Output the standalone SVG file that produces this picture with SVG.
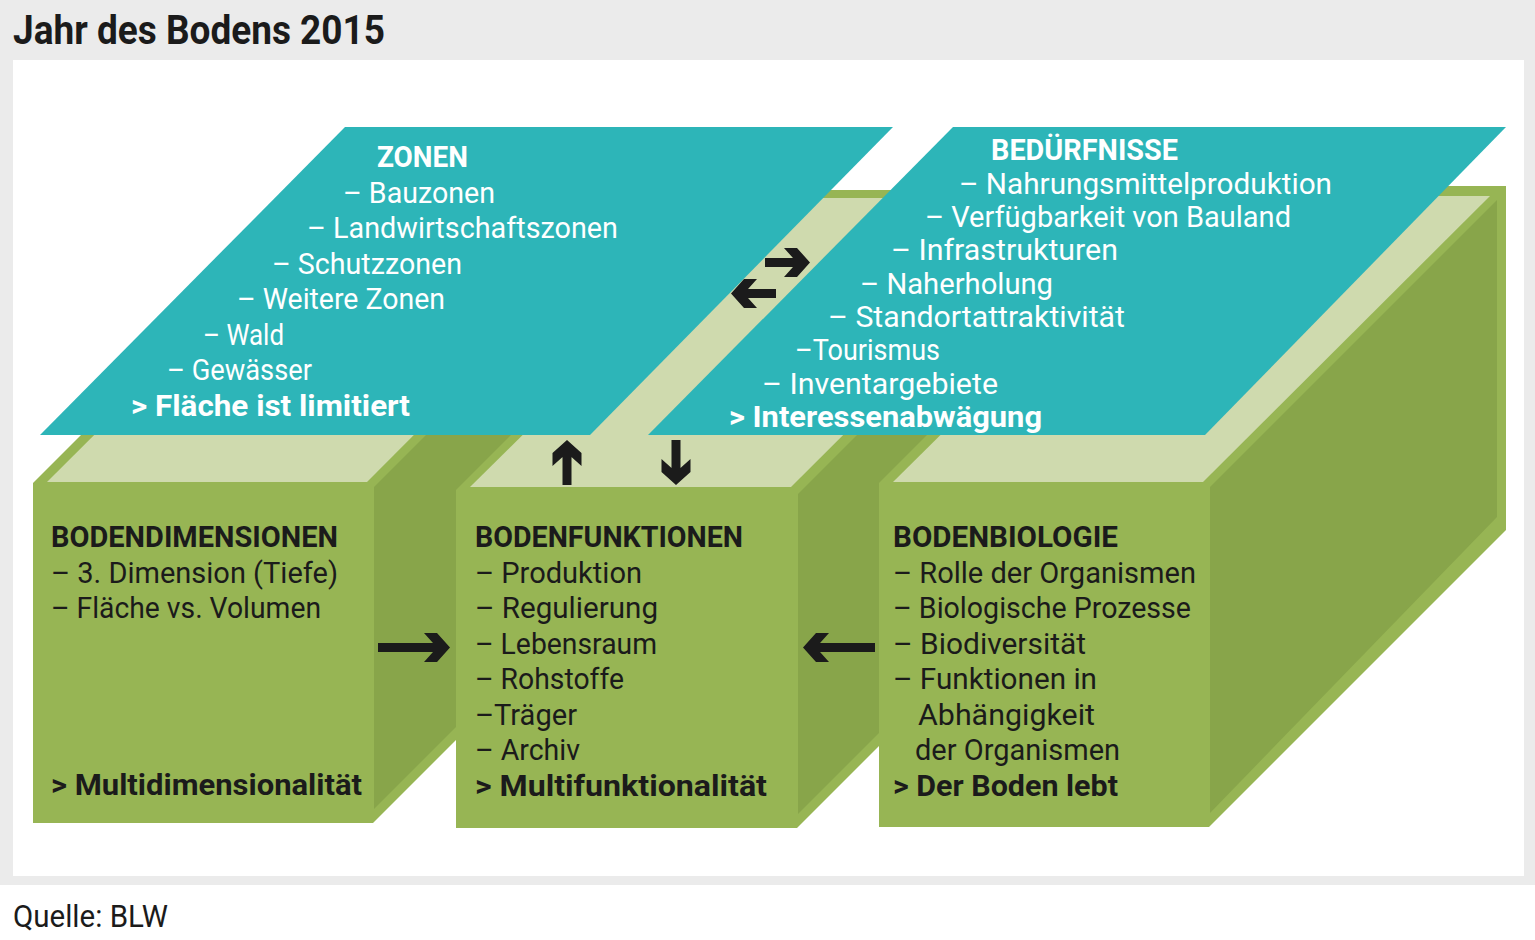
<svg xmlns="http://www.w3.org/2000/svg" width="1535" height="940" viewBox="0 0 1535 940">
<style>
.t{font-family:Roboto,"Liberation Sans",sans-serif;font-size:29px}
.w{fill:#ffffff}
.k{fill:#1b1b1b}
.b{font-weight:700}
.front{fill:#97b554}
.top{fill:#cfdaae}
.side{fill:#88a54a}
.teal{fill:#2db5b8}
.arrow{fill:#1b1b1b}
</style>
<defs>
<path id="arrL" d="M-72,-4.5 H-10 V4.5 H-72 Z M-26,-14.5 H-13 L0,0 L-13,14.5 H-26 L-13,0 Z"/>
<path id="arrS" d="M-45,-4.5 H-10 V4.5 H-45 Z M-26,-14.5 H-13 L0,0 L-13,14.5 H-26 L-13,0 Z"/>
</defs>
<rect x="0" y="0" width="1535" height="885" fill="#ebebeb"/>
<rect x="0" y="885" width="1535" height="55" fill="#ffffff"/>
<rect x="13" y="60" width="1511" height="816" fill="#ffffff"/>
<text class="t k b" x="13" y="44" style="font-size:40px" textLength="372" lengthAdjust="spacingAndGlyphs">Jahr des Bodens 2015</text>

<g id="box-bodendimensionen">
<polygon class="front" points="33,823 33,483 333,183 673,183 673,523 373,823"/>
<polygon class="top" points="47,482 367,482 657,191 339,191"/>
<polygon class="side" points="374,487 664,197 664,519 374,809"/>
</g>
<g id="box-bodenfunktionen">
<polygon class="front" points="456,828 456,490 756,190 1097,190 1097,528 797,828"/>
<polygon class="top" points="470,487 791,487 1081,198 762,198"/>
<polygon class="side" points="798,494 1088,204 1088,524 798,814"/>
</g>
<g id="box-bodenbiologie">
<polygon class="front" points="879,827 879,483 1176,186 1506,186 1506,530 1209,827"/>
<polygon class="top" points="893,482 1203,482 1490,196 1182,196"/>
<polygon class="side" points="1210,487 1497,200 1497,517 1210,813"/>
</g>
<g id="plane-zonen">
<polygon class="teal" points="40,435 590,435 893,127 345,127"/>
</g>
<g id="plane-beduerfnisse">
<polygon class="teal" points="648,435 1205,435 1506,127 953,127"/>
</g>

<g id="connectors" class="arrow">
<use href="#arrL" transform="translate(450,647.5)"/>
<use href="#arrL" transform="translate(803,647.5) rotate(180)"/>
<use href="#arrS" transform="translate(810,262.5)"/>
<use href="#arrS" transform="translate(731,293.5) rotate(180)"/>
<use href="#arrS" transform="translate(567,440) rotate(-90)"/>
<use href="#arrS" transform="translate(676,485) rotate(90)"/>
</g>

<g id="text-zonen">
<text class="t w b" x="377" y="167" textLength="91" lengthAdjust="spacingAndGlyphs">ZONEN</text>
<text class="t w" x="343" y="202.5" textLength="152" lengthAdjust="spacingAndGlyphs">– Bauzonen</text>
<text class="t w" x="307" y="238" textLength="311" lengthAdjust="spacingAndGlyphs">– Landwirtschaftszonen</text>
<text class="t w" x="272" y="273.5" textLength="190" lengthAdjust="spacingAndGlyphs">– Schutzzonen</text>
<text class="t w" x="237" y="309" textLength="208" lengthAdjust="spacingAndGlyphs">– Weitere Zonen</text>
<text class="t w" x="203" y="344.5" textLength="81" lengthAdjust="spacingAndGlyphs">– Wald</text>
<text class="t w" x="167" y="380" textLength="145" lengthAdjust="spacingAndGlyphs">– Gewässer</text>
<text class="t w b" x="131" y="415.5" textLength="279" lengthAdjust="spacingAndGlyphs">&gt; Fläche ist limitiert</text>
</g>
<g id="text-beduerfnisse">
<text class="t w b" x="991" y="160" textLength="187" lengthAdjust="spacingAndGlyphs">BEDÜRFNISSE</text>
<text class="t w" x="959" y="194" textLength="373" lengthAdjust="spacingAndGlyphs">– Nahrungsmittelproduktion</text>
<text class="t w" x="925" y="227" textLength="366" lengthAdjust="spacingAndGlyphs">– Verfügbarkeit von Bauland</text>
<text class="t w" x="891" y="260" textLength="227" lengthAdjust="spacingAndGlyphs">– Infrastrukturen</text>
<text class="t w" x="860" y="294" textLength="193" lengthAdjust="spacingAndGlyphs">– Naherholung</text>
<text class="t w" x="828" y="327" textLength="297" lengthAdjust="spacingAndGlyphs">– Standortattraktivität</text>
<text class="t w" x="795" y="360" textLength="145" lengthAdjust="spacingAndGlyphs">–Tourismus</text>
<text class="t w" x="762" y="394" textLength="236" lengthAdjust="spacingAndGlyphs">– Inventargebiete</text>
<text class="t w b" x="729" y="427" textLength="313" lengthAdjust="spacingAndGlyphs">&gt; Interessenabwägung</text>
</g>
<g id="text-bodendimensionen">
<text class="t k b" x="51" y="547" textLength="287" lengthAdjust="spacingAndGlyphs">BODENDIMENSIONEN</text>
<text class="t k" x="51" y="583" textLength="287" lengthAdjust="spacingAndGlyphs">– 3. Dimension (Tiefe)</text>
<text class="t k" x="51" y="618" textLength="270" lengthAdjust="spacingAndGlyphs">– Fläche vs. Volumen</text>
<text class="t k b" x="51" y="795" textLength="311" lengthAdjust="spacingAndGlyphs">&gt; Multidimensionalität</text>
</g>
<g id="text-bodenfunktionen">
<text class="t k b" x="475" y="547" textLength="268" lengthAdjust="spacingAndGlyphs">BODENFUNKTIONEN</text>
<text class="t k" x="475" y="582.5" textLength="167" lengthAdjust="spacingAndGlyphs">– Produktion</text>
<text class="t k" x="475" y="618" textLength="183" lengthAdjust="spacingAndGlyphs">– Regulierung</text>
<text class="t k" x="475" y="653.5" textLength="182" lengthAdjust="spacingAndGlyphs">– Lebensraum</text>
<text class="t k" x="475" y="689" textLength="149" lengthAdjust="spacingAndGlyphs">– Rohstoffe</text>
<text class="t k" x="475" y="724.5" textLength="102" lengthAdjust="spacingAndGlyphs">–Träger</text>
<text class="t k" x="475" y="760" textLength="105" lengthAdjust="spacingAndGlyphs">– Archiv</text>
<text class="t k b" x="475" y="795.5" textLength="292" lengthAdjust="spacingAndGlyphs">&gt; Multifunktionalität</text>
</g>
<g id="text-bodenbiologie">
<text class="t k b" x="893" y="547" textLength="225" lengthAdjust="spacingAndGlyphs">BODENBIOLOGIE</text>
<text class="t k" x="893" y="582.5" textLength="303" lengthAdjust="spacingAndGlyphs">– Rolle der Organismen</text>
<text class="t k" x="893" y="618" textLength="298" lengthAdjust="spacingAndGlyphs">– Biologische Prozesse</text>
<text class="t k" x="893" y="653.5" textLength="193" lengthAdjust="spacingAndGlyphs">– Biodiversität</text>
<text class="t k" x="893" y="689" textLength="204" lengthAdjust="spacingAndGlyphs">– Funktionen in</text>
<text class="t k" x="918" y="724.5" textLength="177" lengthAdjust="spacingAndGlyphs">Abhängigkeit</text>
<text class="t k" x="915" y="760" textLength="205" lengthAdjust="spacingAndGlyphs">der Organismen</text>
<text class="t k b" x="893" y="795.5" textLength="225" lengthAdjust="spacingAndGlyphs">&gt; Der Boden lebt</text>
</g>
<text class="t k" x="13" y="927" style="font-size:31px" textLength="155" lengthAdjust="spacingAndGlyphs">Quelle: BLW</text>
</svg>
